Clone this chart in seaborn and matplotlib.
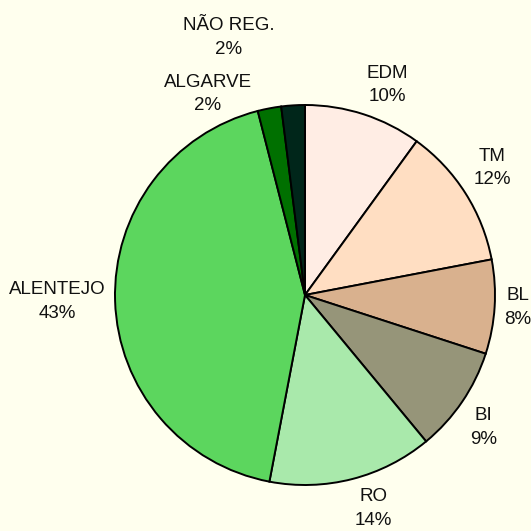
import numpy as np
import matplotlib
matplotlib.use('Agg')
import matplotlib.pyplot as plt
import seaborn as sns

# data
regions = ['EDM', 'TM', 'BL', 'BI', 'RO', 'ALENTEJO', 'ALGARVE', 'NÃO REG.']
shares = [10, 12, 8, 9, 14, 43, 2, 2]
colors = ['#FFEDE4', '#FFDEC2', '#D9B18E', '#969579', '#A9E9AB', '#5CD65E', '#007000', '#00261A']

sns.set_theme(style='white')
plt.rcParams['font.family'] = ['Liberation Sans', 'DejaVu Sans']

bg = '#FFFFEE'
fig = plt.figure(figsize=(5.31, 5.31), dpi=100, facecolor=bg)
ax = fig.add_axes([0, 0, 1, 1])
ax.set_facecolor(bg)

labels = [f'{r}\n{s}%' for r, s in zip(regions, shares)]
wedges, texts = ax.pie(shares, labels=labels, colors=colors, startangle=90,
                       counterclock=False, labeldistance=1.05,
                       wedgeprops={'edgecolor': 'black', 'linewidth': 1.4},
                       textprops={'fontsize': 13.5, 'multialignment': 'center',
                                  'linespacing': 1.5, 'color': '#111111'})

# align labels outward from their slice
for t in texts:
    x, y = t.get_position()
    t.set_ha('left' if x > 0 else 'right')
    if y > 0.3:
        t.set_va('bottom')
    elif y < -0.3:
        t.set_va('top')
    else:
        t.set_va('center')

# the two thin slices at the top get pushed apart
texts[6].set_position((-0.28, 0.95))
texts[7].set_position((-0.16, 1.25))
texts[6].set_ha('right')
texts[7].set_ha('right')

ax.set_xlim(-305 / 190, (531 - 305) / 190)
ax.set_ylim(-(531 - 295) / 190, 295 / 190)
ax.set_aspect('equal')
ax.axis('off')

fig.savefig('out.png', dpi=100, facecolor=bg)
